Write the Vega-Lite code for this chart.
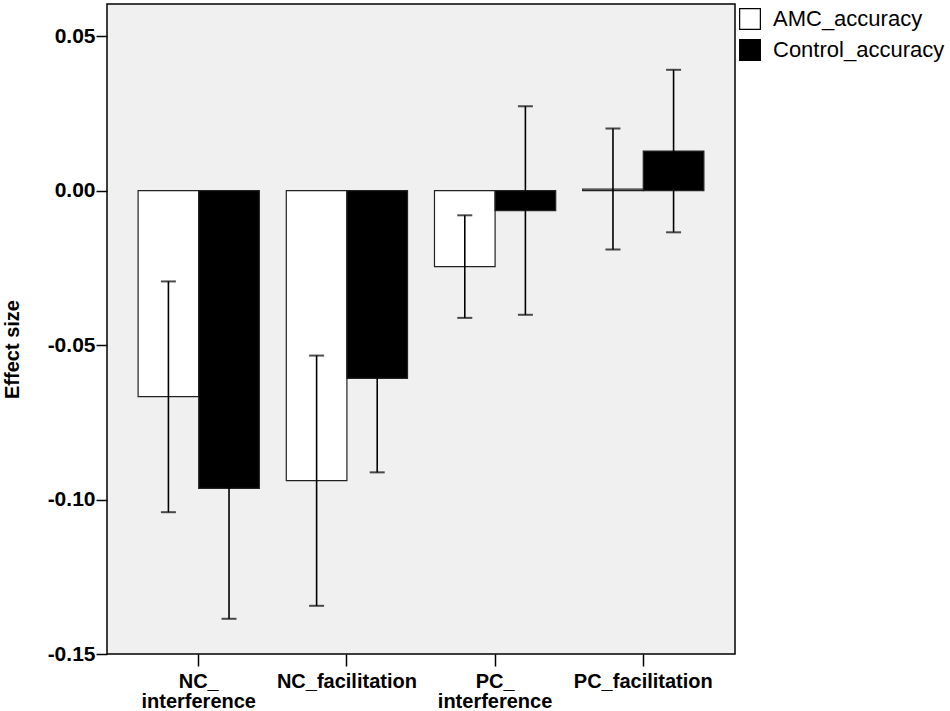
{
  "$schema": "https://vega.github.io/schema/vega-lite/v6.json",
  "autosize": "none",
  "width": 628,
  "height": 650,
  "padding": {"left": 107, "top": 4, "right": 215, "bottom": 57},
  "background": "white",
  "config": {
    "font": "Liberation Sans",
    "view": {"fill": "#f0f0f0", "stroke": "#000000", "strokeWidth": 1.5}
  },
  "data": {
    "values": [
      {"condition": "NC_interference", "series": "AMC_accuracy", "mean": -0.0667, "lo": -0.1041, "hi": -0.0294},
      {"condition": "NC_interference", "series": "Control_accuracy", "mean": -0.0964, "lo": -0.1386, "hi": -0.0542},
      {"condition": "NC_facilitation", "series": "AMC_accuracy", "mean": -0.0939, "lo": -0.1344, "hi": -0.0534},
      {"condition": "NC_facilitation", "series": "Control_accuracy", "mean": -0.0608, "lo": -0.0912, "hi": -0.0304},
      {"condition": "PC_interference", "series": "AMC_accuracy", "mean": -0.0246, "lo": -0.0412, "hi": -0.0080},
      {"condition": "PC_interference", "series": "Control_accuracy", "mean": -0.0065, "lo": -0.0402, "hi": 0.0273},
      {"condition": "PC_facilitation", "series": "AMC_accuracy", "mean": 0.0005, "lo": -0.0191, "hi": 0.0201},
      {"condition": "PC_facilitation", "series": "Control_accuracy", "mean": 0.0128, "lo": -0.0135, "hi": 0.0391}
    ]
  },
  "encoding": {
    "x": {
      "field": "condition",
      "type": "nominal",
      "sort": ["NC_interference", "NC_facilitation", "PC_interference", "PC_facilitation"],
      "scale": {"paddingInner": 0.182, "paddingOuter": 0.21},
      "axis": {
        "title": null,
        "domain": false,
        "labelAngle": 0,
        "labelFontSize": 20,
        "labelFontWeight": "bold",
        "labelColor": "#000000",
        "labelLineHeight": 20,
        "labelPadding": 5,
        "tickSize": 12,
        "tickWidth": 1.5,
        "tickColor": "#000000",
        "labelExpr": "datum.label == 'NC_interference' ? ['NC_', 'interference'] : datum.label == 'PC_interference' ? ['PC_', 'interference'] : datum.label"
      }
    },
    "xOffset": {
      "field": "series",
      "type": "nominal",
      "scale": {"domain": ["AMC_accuracy", "Control_accuracy"], "paddingInner": 0, "paddingOuter": 0}
    }
  },
  "layer": [
    {
      "mark": {"type": "bar", "stroke": "#222222", "strokeWidth": 1.2},
      "encoding": {
        "y": {
          "field": "mean",
          "type": "quantitative",
          "scale": {"domain": [-0.15, 0.0604], "nice": false, "zero": false},
          "axis": {
            "title": "Effect size",
            "titleFontSize": 20,
            "titleFontWeight": "bold",
            "titleColor": "#000000",
            "titleAngle": -90,
            "titleAlign": "center",
            "titleBaseline": "alphabetic",
            "titleX": -89,
            "titleY": 345,
            "values": [-0.15, -0.1, -0.05, 0, 0.05],
            "labelExpr": "replace(format(datum.value, '.2f'), '\u2212', '-')",
            "labelFontSize": 21,
            "labelFontWeight": "bold",
            "labelColor": "#000000",
            "labelPadding": 1,
            "tickSize": 11,
            "tickWidth": 1.5,
            "tickColor": "#000000",
            "domain": false,
            "grid": false
          }
        },
        "y2": {"datum": 0},
        "fill": {
          "field": "series",
          "type": "nominal",
          "scale": {"domain": ["AMC_accuracy", "Control_accuracy"], "range": ["#ffffff", "#000000"]},
          "legend": {
            "title": null,
            "orient": "none",
            "legendX": 632,
            "legendY": 4,
            "symbolType": "square",
            "symbolSize": 430,
            "symbolStrokeColor": "#000000",
            "symbolStrokeWidth": 1.2,
            "labelFontSize": 22,
            "labelLimit": 300,
            "labelColor": "#000000",
            "labelOffset": 12,
            "rowPadding": 5
          }
        }
      }
    },
    {
      "mark": {"type": "rule", "color": "#000000", "strokeWidth": 1.6},
      "encoding": {
        "y": {"field": "lo", "type": "quantitative"},
        "y2": {"field": "hi"}
      }
    },
    {
      "mark": {"type": "tick", "orient": "horizontal", "size": 15, "thickness": 2, "color": "#000000"},
      "encoding": {
        "y": {"field": "lo", "type": "quantitative"}
      }
    },
    {
      "mark": {"type": "tick", "orient": "horizontal", "size": 15, "thickness": 2, "color": "#000000"},
      "encoding": {
        "y": {"field": "hi", "type": "quantitative"}
      }
    }
  ]
}
